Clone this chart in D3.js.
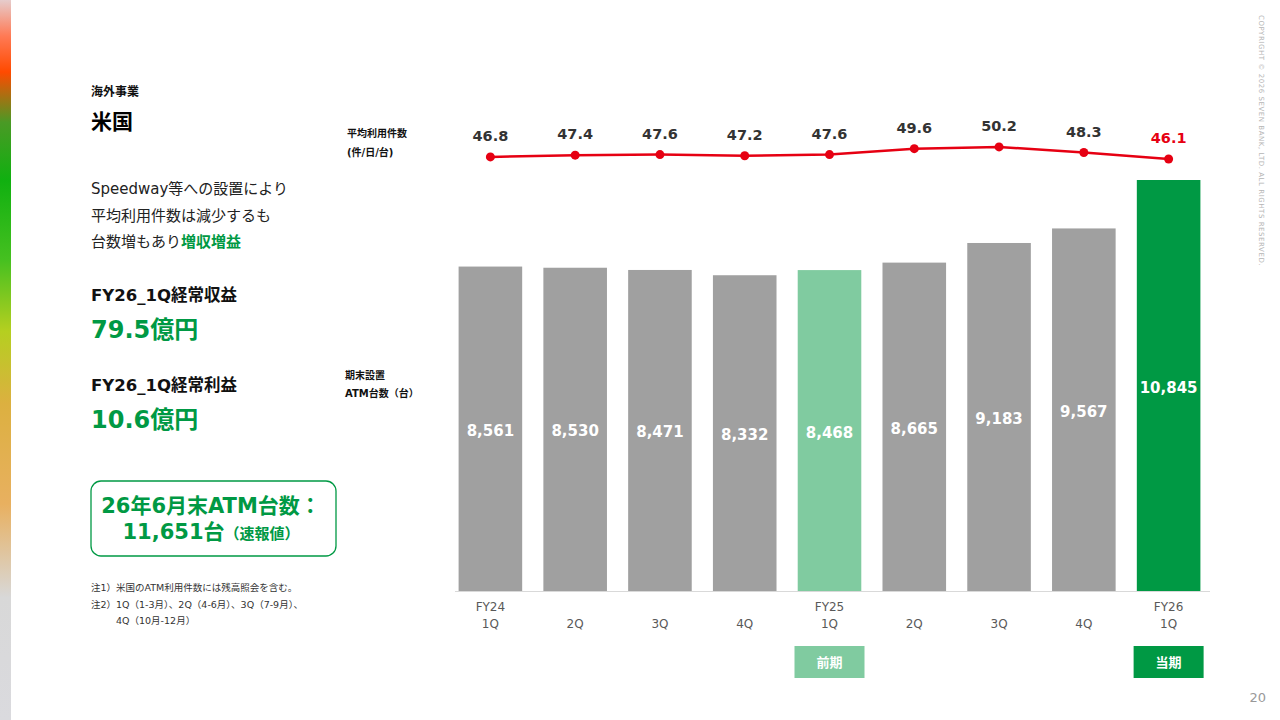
<!DOCTYPE html>
<html lang="ja">
<head>
  <meta charset="utf-8" />
  <title>海外事業 米国</title>
  <style>
    body {
      margin: 0;
      padding: 0;
      background: #fff;
      font-family: "DejaVu Sans", "Noto Sans CJK JP", sans-serif;
    }
    svg { display: block; }
    .jp { font-family: "DejaVu Sans", "Noto Sans CJK JP", sans-serif; }
    .bar-label { font-size: 15px; font-weight: bold; fill: #fff; }
    .line-label { font-size: 14.5px; font-weight: bold; fill: #333; }
    .cat-label { font-size: 12px; fill: #595959; }
  </style>
  <script src="https://d3js.org/d3.v7.min.js"></script>
</head>
<body>
  <svg width="1280" height="720"></svg>
  <script>
    // data
    const periods = ["FY24 1Q", "FY24 2Q", "FY24 3Q", "FY24 4Q", "FY25 1Q", "FY25 2Q", "FY25 3Q", "FY25 4Q", "FY26 1Q"];
    const tickTop = ["FY24", "", "", "", "FY25", "", "", "", "FY26"];
    const tickBottom = ["1Q", "2Q", "3Q", "4Q", "1Q", "2Q", "3Q", "4Q", "1Q"];
    const atmCount = [8561, 8530, 8471, 8332, 8468, 8665, 9183, 9567, 10845];
    const avgUsage = [46.8, 47.4, 47.6, 47.2, 47.6, 49.6, 50.2, 48.3, 46.1];

    const green = "#009944";
    const lightGreen = "#80cba0";
    const gray = "#a0a0a0";
    const red = "#e60012";

    const svg = d3.select("svg");

    // left edge colour strip
    const defs = svg.append("defs");
    const grad = defs.append("linearGradient")
      .attr("id", "edge").attr("x1", 0).attr("y1", 0).attr("x2", 0).attr("y2", 1);
    [[0, "#e6cccc"], [0.05, "#ff7a55"], [0.1, "#ff4a00"], [0.17, "#4a9a25"],
     [0.25, "#10b010"], [0.36, "#45c020"], [0.46, "#b5cf20"], [0.56, "#dcb040"],
     [0.7, "#e8b060"], [0.83, "#d8d8d8"], [1, "#dadade"]]
      .forEach(s => grad.append("stop").attr("offset", s[0]).attr("stop-color", s[1]));
    svg.append("rect").attr("x", 0).attr("y", 0).attr("width", 11).attr("height", 720)
      .attr("fill", "url(#edge)");

    // copyright, vertical
    svg.append("text")
      .attr("transform", "translate(1259,15) rotate(90)")
      .attr("font-size", 7).attr("fill", "#b5b5b5").attr("letter-spacing", 0.55)
      .text("COPYRIGHT © 2026  SEVEN BANK, LTD. ALL RIGHTS RESERVED.");

    svg.append("text").attr("x", 1266).attr("y", 702).attr("text-anchor", "end")
      .attr("font-size", 13).attr("fill", "#999").text("20");

    // left panel
    const left = svg.append("g").attr("class", "jp");
    left.append("text").attr("x", 91).attr("y", 96).attr("font-size", 12)
      .attr("font-weight", "bold").attr("fill", "#111").text("海外事業");
    left.append("text").attr("x", 91).attr("y", 129).attr("font-size", 21)
      .attr("font-weight", "bold").attr("fill", "#000").text("米国");

    const body = ["Speedway等への設置により", "平均利用件数は減少するも"];
    body.forEach((t, i) => {
      left.append("text").attr("x", 91).attr("y", 194 + i * 26.5)
        .attr("font-size", 15).attr("fill", "#222").text(t);
    });
    const l3 = left.append("text").attr("x", 91).attr("y", 247).attr("font-size", 15).attr("fill", "#222");
    l3.append("tspan").text("台数増もあり");
    l3.append("tspan").attr("font-weight", "bold").attr("fill", green).text("増収増益");

    left.append("text").attr("x", 91).attr("y", 301).attr("font-size", 16.5)
      .attr("font-weight", "bold").attr("fill", "#111").text("FY26_1Q経常収益");
    left.append("text").attr("x", 91).attr("y", 338).attr("font-size", 24)
      .attr("font-weight", "bold").attr("fill", green).text("79.5億円");
    left.append("text").attr("x", 91).attr("y", 391).attr("font-size", 16.5)
      .attr("font-weight", "bold").attr("fill", "#111").text("FY26_1Q経常利益");
    left.append("text").attr("x", 91).attr("y", 428).attr("font-size", 24)
      .attr("font-weight", "bold").attr("fill", green).text("10.6億円");

    left.append("rect").attr("x", 91).attr("y", 481).attr("width", 245).attr("height", 75)
      .attr("rx", 10).attr("fill", "#fff").attr("stroke", green).attr("stroke-width", 1.3);
    left.append("text").attr("x", 211).attr("y", 513).attr("text-anchor", "middle")
      .attr("font-size", 21).attr("font-weight", "bold").attr("fill", green).text("26年6月末ATM台数：");
    const bx = left.append("text").attr("x", 211).attr("y", 539).attr("text-anchor", "middle")
      .attr("font-size", 21).attr("font-weight", "bold").attr("fill", green);
    bx.append("tspan").text("11,651台");
    bx.append("tspan").attr("font-size", 15).text("（速報値）");

    const notes = left.append("g").attr("font-size", 9.5).attr("fill", "#333");
    notes.append("text").attr("x", 91).attr("y", 591).text("注1）米国のATM利用件数には残高照会を含む。");
    notes.append("text").attr("x", 91).attr("y", 608).text("注2）1Q（1-3月）、2Q（4-6月）、3Q（7-9月）、");
    notes.append("text").attr("x", 116).attr("y", 624).text("4Q（10月-12月）");

    // axis titles
    const at = svg.append("g").attr("font-size", 10).attr("font-weight", "bold").attr("fill", "#111");
    at.append("text").attr("x", 347).attr("y", 137).text("平均利用件数");
    at.append("text").attr("x", 347).attr("y", 156).text("(件/日/台)");
    at.append("text").attr("x", 345).attr("y", 379).text("期末設置");
    at.append("text").attr("x", 345).attr("y", 397).text("ATM台数（台）");

    // scales
    const x = d3.scaleBand().domain(periods).range([448, 1211])
      .paddingInner(0.25).paddingOuter(0.125);
    const yBar = d3.scaleLinear().domain([0, 10845]).range([591, 180]);
    const yLine = d3.scaleLinear().domain([40, 60]).range([177, 118]);

    const barColor = i => i === 8 ? green : (i === 4 ? lightGreen : gray);

    // bars
    svg.append("g").selectAll("rect").data(atmCount).join("rect")
      .attr("x", (d, i) => x(periods[i]))
      .attr("y", d => yBar(d))
      .attr("width", x.bandwidth())
      .attr("height", d => yBar(0) - yBar(d))
      .attr("fill", (d, i) => barColor(i));

    svg.append("g").selectAll("text").data(atmCount).join("text")
      .attr("class", "bar-label")
      .attr("x", (d, i) => x(periods[i]) + x.bandwidth() / 2)
      .attr("y", d => (yBar(d) + yBar(0)) / 2 + 7)
      .attr("text-anchor", "middle")
      .text(d => d3.format(",")(d));

    // baseline
    svg.append("line").attr("x1", 455).attr("x2", 1210)
      .attr("y1", yBar(0) + 0.5).attr("y2", yBar(0) + 0.5)
      .attr("stroke", "#d9d9d9").attr("stroke-width", 1);

    // category labels
    const cats = svg.append("g");
    cats.selectAll(".t1").data(tickTop).join("text")
      .attr("class", "cat-label t1")
      .attr("x", (d, i) => x(periods[i]) + x.bandwidth() / 2)
      .attr("y", 611).attr("text-anchor", "middle").text(d => d);
    cats.selectAll(".t2").data(tickBottom).join("text")
      .attr("class", "cat-label t2")
      .attr("x", (d, i) => x(periods[i]) + x.bandwidth() / 2)
      .attr("y", 628).attr("text-anchor", "middle").text(d => d);

    // period tags
    const tags = [{ i: 4, label: "前期", color: lightGreen }, { i: 8, label: "当期", color: green }];
    tags.forEach(t => {
      const cx = x(periods[t.i]) + x.bandwidth() / 2;
      svg.append("rect").attr("x", cx - 35).attr("y", 646).attr("width", 70).attr("height", 32)
        .attr("fill", t.color);
      svg.append("text").attr("x", cx).attr("y", 667).attr("text-anchor", "middle")
        .attr("font-size", 13).attr("font-weight", "bold").attr("fill", "#fff").text(t.label);
    });

    // usage line
    const line = d3.line()
      .x((d, i) => x(periods[i]) + x.bandwidth() / 2)
      .y(d => yLine(d));
    svg.append("path").datum(avgUsage).attr("d", line)
      .attr("fill", "none").attr("stroke", red).attr("stroke-width", 2.5);
    svg.append("g").selectAll("circle").data(avgUsage).join("circle")
      .attr("cx", (d, i) => x(periods[i]) + x.bandwidth() / 2)
      .attr("cy", d => yLine(d))
      .attr("r", 4.5).attr("fill", red);
    svg.append("g").selectAll("text").data(avgUsage).join("text")
      .attr("class", "line-label")
      .attr("x", (d, i) => x(periods[i]) + x.bandwidth() / 2)
      .attr("y", d => yLine(d) - 16)
      .attr("text-anchor", "middle")
      .style("fill", (d, i) => i === 8 ? red : null)
      .text(d => d.toFixed(1));
  </script>
</body>
</html>
